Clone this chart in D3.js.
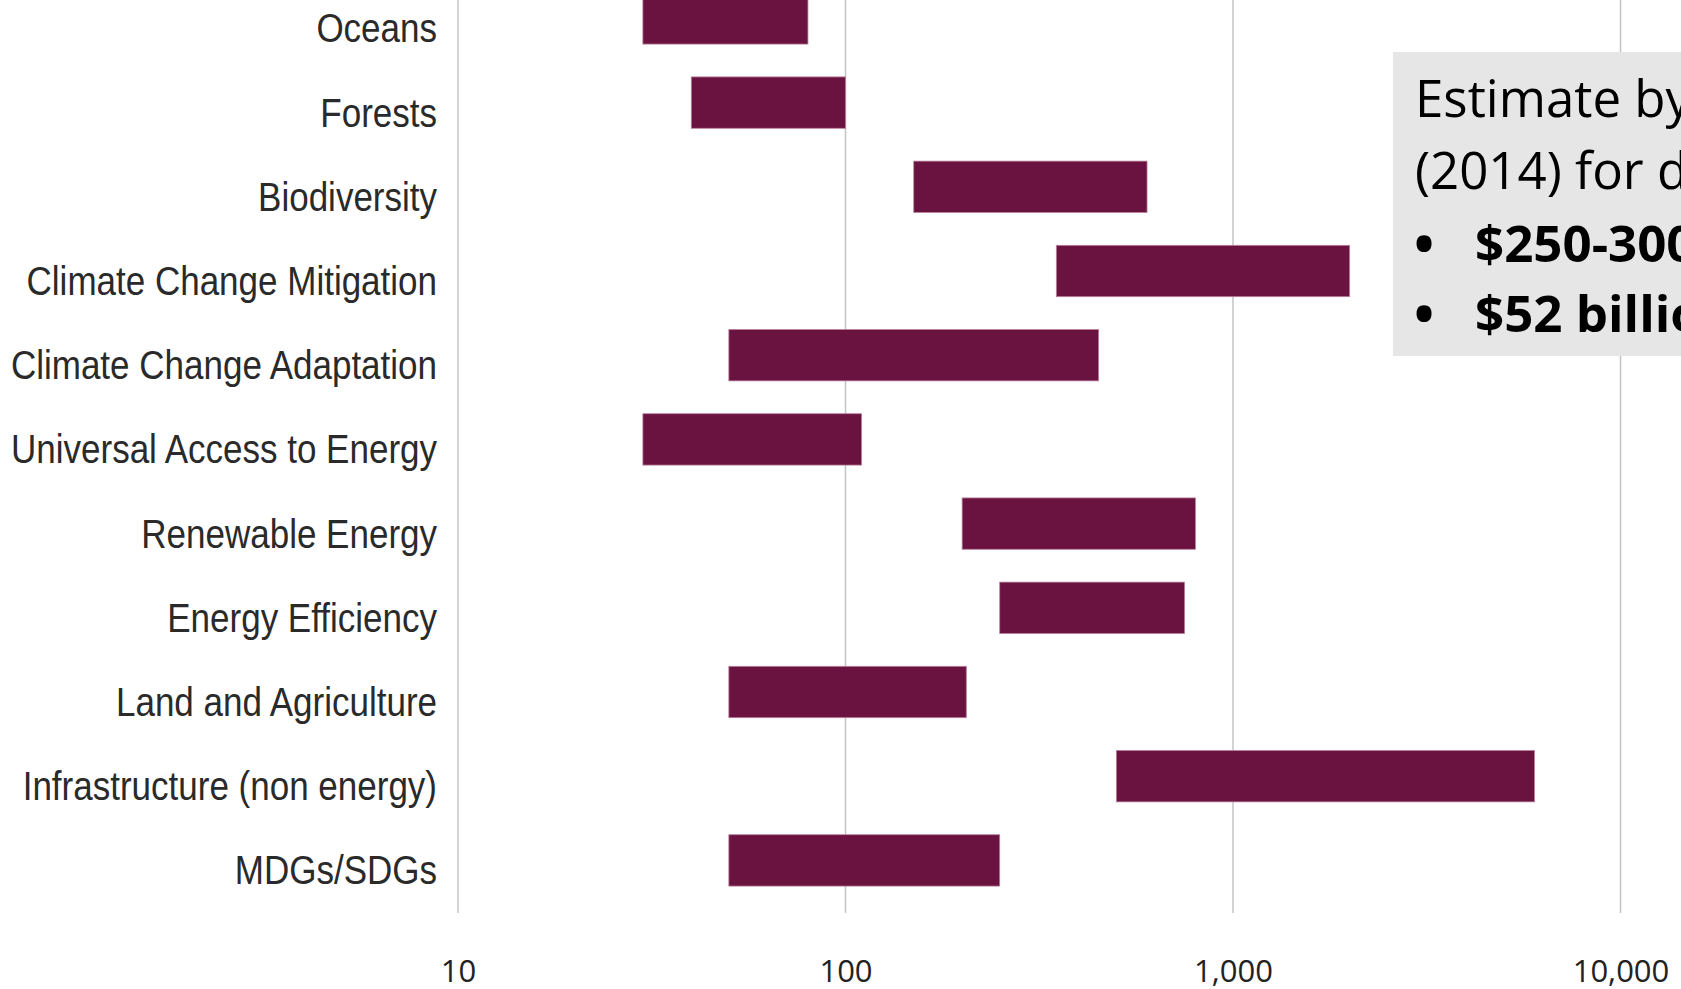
<!DOCTYPE html>
<html>
<head>
<meta charset="utf-8">
<script src="https://cdn.jsdelivr.net/npm/d3@7"></script>
<style>
  html, body { margin: 0; padding: 0; background: #fff; overflow: hidden; }
  svg { display: block; }
</style>
</head>
<body>
<svg id="chart" width="1681" height="989"></svg>
<script>
const categories = [
  'Oceans', 'Forests', 'Biodiversity', 'Climate Change Mitigation',
  'Climate Change Adaptation', 'Universal Access to Energy', 'Renewable Energy',
  'Energy Efficiency', 'Land and Agriculture', 'Infrastructure (non energy)', 'MDGs/SDGs'
];
const lowValues  = [30, 40, 150, 350, 50, 30, 200, 250, 50, 500, 50];
const highValues = [80, 100, 600, 2000, 450, 110, 800, 750, 205, 6000, 250];
const tickValues = [10, 100, 1000, 10000];
const tickLabels = ['10', '100', '1,000', '10,000'];
const noteLines = ['Estimate by UNCTAD', '(2014) for developing countries:'];
const noteBullets = ['$250-300 billion per year', '$52 billion per year'];

const svg = d3.select('#chart');

const x = d3.scaleLog()
    .domain([10, 10000])
    .range([458, 1620.5]);

const y = d3.scaleBand()
    .domain(categories)
    .range([-23.7, 902.5])
    .paddingInner(0.39)
    .paddingOuter(0.195);

const gridBottom = 913;

// gridlines
svg.append('g')
    .selectAll('line')
    .data(tickValues)
    .join('line')
    .attr('x1', d => x(d))
    .attr('x2', d => x(d))
    .attr('y1', 0)
    .attr('y2', gridBottom)
    .attr('stroke', '#c4c4c4')
    .attr('stroke-width', 1.5);

// bars
svg.append('g')
    .selectAll('rect')
    .data(categories)
    .join('rect')
    .attr('x', (d, i) => x(lowValues[i]))
    .attr('width', (d, i) => x(highValues[i]) - x(lowValues[i]))
    .attr('y', d => y(d))
    .attr('height', y.bandwidth())
    .attr('fill', '#6a1240')
    .attr('stroke', '#b9809c')
    .attr('stroke-width', 0.8);

// category labels (condensed look: squeeze horizontally)
svg.append('g')
    .selectAll('text')
    .data(categories)
    .join('text')
    .attr('transform', d => `translate(437,${y(d) + y.bandwidth() / 2 + 24}) scale(0.875,1)`)
    .attr('text-anchor', 'end')
    .attr('font-family', '"Liberation Sans", Arial, sans-serif')
    .attr('font-size', 40)
    .attr('fill', '#2a2a2a')
    .text(d => d);

// x axis labels
const xAxis = d3.axisBottom(x)
    .tickValues(tickValues)
    .tickFormat((d, i) => tickLabels[i])
    .tickSize(0)
    .tickPadding(0);

const axisG = svg.append('g')
    .attr('transform', 'translate(0,958)')
    .call(xAxis);
axisG.select('.domain').remove();
axisG.selectAll('text')
    .attr('font-family', '"Open Sans", sans-serif')
    .attr('font-size', 31)
    .attr('fill', '#222')
    .attr('dy', 0)
    .attr('y', 24);

// note box
const box = svg.append('g');
box.append('rect')
    .attr('x', 1393)
    .attr('y', 52)
    .attr('width', 400)
    .attr('height', 304)
    .attr('fill', '#e6e6e6');

box.selectAll('text.line')
    .data(noteLines)
    .join('text')
    .attr('class', 'line')
    .attr('x', 1415)
    .attr('y', (d, i) => 117 + i * 71.5)
    .attr('font-family', '"Open Sans", sans-serif')
    .attr('font-size', 51)
    .attr('fill', '#000')
    .text(d => d);

const bullets = box.selectAll('g.bullet')
    .data(noteBullets)
    .join('g')
    .attr('class', 'bullet');
bullets.append('text')
    .attr('x', 1424)
    .attr('y', (d, i) => 262 + i * 70 + 8)
    .attr('text-anchor', 'middle')
    .attr('font-family', '"Open Sans", sans-serif')
    .attr('font-size', 72)
    .attr('fill', '#000')
    .text('•');
bullets.append('text')
    .attr('x', 1475)
    .attr('y', (d, i) => 262 + i * 70)
    .attr('font-family', '"Open Sans", sans-serif')
    .attr('font-weight', 'bold')
    .attr('font-size', 51)
    .attr('fill', '#000')
    .text(d => d);
</script>
</body>
</html>
